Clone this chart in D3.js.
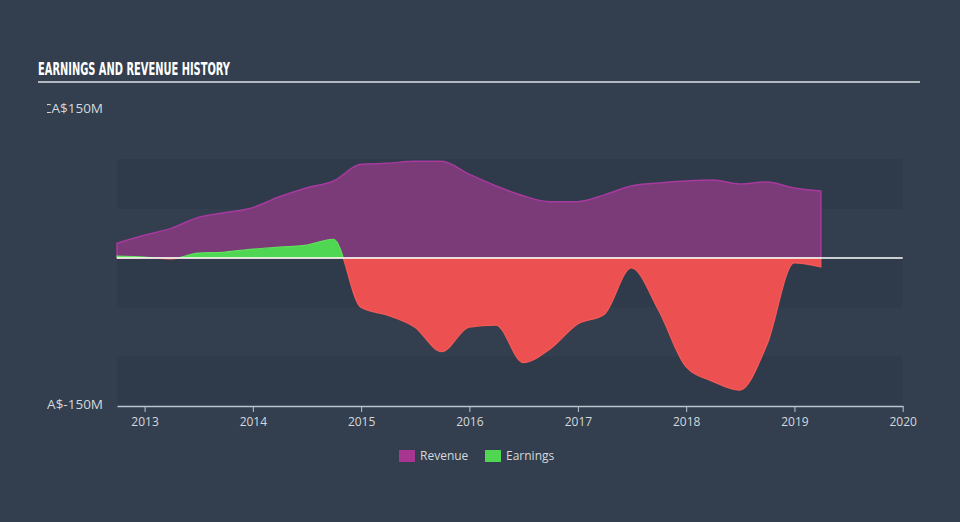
<!DOCTYPE html>
<html>
<head>
<meta charset="utf-8">
<script src="https://cdn.jsdelivr.net/npm/d3@7"></script>
<style>
  html, body { margin: 0; padding: 0; background: #333f4e; }
  svg { display: block; }
</style>
</head>
<body>
<svg id="chart" width="960" height="522"></svg>
<script>
// quarter-end dates and values (CA$ millions)
const dates = [
  '2012-09-30', '2012-12-31', '2013-03-31', '2013-06-30', '2013-09-30', '2013-12-31',
  '2014-03-31', '2014-06-30', '2014-09-30', '2014-12-31', '2015-03-31', '2015-06-30',
  '2015-09-30', '2015-12-31', '2016-03-31', '2016-06-30', '2016-09-30', '2016-12-31',
  '2017-03-31', '2017-06-30', '2017-09-30', '2017-12-31', '2018-03-31', '2018-06-30',
  '2018-09-30', '2018-12-31', '2019-03-31'
];
const revenue = [
  15, 23, 30, 41, 46, 51, 62, 71, 78, 95, 96, 98,
  98, 85, 73, 63, 57, 57, 64, 73, 76, 78, 79, 75,
  77, 71, 68
];
const earnings = [
  2, 1, -1, 5, 6, 9, 11, 13, 19, -50, -58, -70,
  -95, -70, -68, -106, -92, -67, -57, -10, -53, -110, -125, -134,
  -88, -5, -9
];
const yearTicks = ['2013', '2014', '2015', '2016', '2017', '2018', '2019', '2020'];
const yTicks = [150, -150];
const bands = [[50, 100], [-50, 0], [-150, -100]];
const legendItems = [
  { name: 'Revenue', color: '#a8358f' },
  { name: 'Earnings', color: '#4fd653' }
];

const parse = d3.timeParse('%Y-%m-%d');
const rows = dates.map((d, i) => ({ date: parse(d), rev: revenue[i], earn: earnings[i] }));

const svg = d3.select('#chart');
const left = 117, right = 902.7;

const x = d3.scaleTime()
  .domain([parse('2012-09-30'), parse('2020-01-01')])
  .range([left, right]);
const y = d3.scaleLinear().domain([-150, 150]).range([406, 110]);

// title
svg.append('text')
  .attr('x', 38).attr('y', 75)
  .attr('fill', '#ffffff')
  .attr('font-family', "'Liberation Sans Narrow', 'DejaVu Sans Condensed', sans-serif")
  .attr('font-weight', 700)
  .attr('font-size', 17)
  .attr('textLength', 192)
  .attr('lengthAdjust', 'spacingAndGlyphs')
  .text('EARNINGS AND REVENUE HISTORY');
svg.append('line')
  .attr('x1', 38).attr('x2', 920).attr('y1', 82).attr('y2', 82)
  .attr('stroke', '#b4b9bf').attr('stroke-width', 2);

// background bands
svg.append('g').selectAll('rect')
  .data(bands)
  .join('rect')
  .attr('x', left).attr('width', right - left)
  .attr('y', d => y(d[1]))
  .attr('height', d => y(d[0]) - y(d[1]))
  .attr('fill', '#2f3b4a');

// revenue
const revArea = d3.area()
  .curve(d3.curveMonotoneX)
  .x(d => x(d.date))
  .y0(y(0))
  .y1(d => y(d.rev));
svg.append('path')
  .datum(rows)
  .attr('d', revArea)
  .attr('fill', '#7b3a78')
  .attr('stroke', '#a63a9e')
  .attr('stroke-width', 1.5);

// earnings, split at zero into green / red
const defs = svg.append('defs');
defs.append('clipPath').attr('id', 'above')
  .append('rect').attr('x', 0).attr('y', 0).attr('width', 960).attr('height', y(0));
defs.append('clipPath').attr('id', 'below')
  .append('rect').attr('x', 0).attr('y', y(0)).attr('width', 960).attr('height', 522 - y(0));

const earnArea = d3.area()
  .curve(d3.curveMonotoneX)
  .x(d => x(d.date))
  .y0(y(0))
  .y1(d => y(d.earn));
svg.append('path')
  .datum(rows)
  .attr('d', earnArea)
  .attr('clip-path', 'url(#above)')
  .attr('fill', '#4fd653')
  .attr('stroke', '#5fe05c')
  .attr('stroke-width', 1.2);
svg.append('path')
  .datum(rows)
  .attr('d', earnArea)
  .attr('clip-path', 'url(#below)')
  .attr('fill', '#ec5050')
  .attr('stroke', '#f55a58')
  .attr('stroke-width', 1.2);

// zero line
svg.append('line')
  .attr('x1', left).attr('x2', right)
  .attr('y1', y(0)).attr('y2', y(0))
  .attr('stroke', '#ffffff').attr('stroke-width', 1.5);

// x axis
const xAxis = svg.append('g')
  .attr('transform', `translate(0,${y(-150)})`)
  .call(d3.axisBottom(x)
    .tickValues(yearTicks.map(t => parse(t + '-01-01')))
    .tickFormat(d3.timeFormat('%Y'))
    .tickSize(6)
    .tickSizeOuter(0));
xAxis.select('.domain').attr('stroke', '#b8c4d0').attr('stroke-width', 1.5);
xAxis.selectAll('.tick line').attr('stroke', '#b8c4d0');
xAxis.selectAll('.tick text')
  .attr('fill', '#d4d8dd')
  .attr('font-family', "'Open Sans', sans-serif")
  .attr('font-size', 12)
  .attr('dy', '0.9em');

// y labels (clipped at the left like the original)
defs.append('clipPath').attr('id', 'ylab')
  .append('rect').attr('x', 47).attr('y', 0).attr('width', 80).attr('height', 522);
svg.append('g')
  .attr('clip-path', 'url(#ylab)')
  .selectAll('text')
  .data(yTicks)
  .join('text')
  .attr('x', 103)
  .attr('y', d => y(d) - 2)
  .attr('dy', '0.35em')
  .attr('text-anchor', 'end')
  .attr('fill', '#d4d8dd')
  .attr('font-family', "'Open Sans', sans-serif")
  .attr('font-size', 13.5)
  .text(d => `CA$${d}M`);

// legend
const legend = svg.append('g').attr('transform', 'translate(399,450)');
const item = legend.selectAll('g')
  .data(legendItems)
  .join('g')
  .attr('transform', (d, i) => `translate(${i * 86},0)`);
item.append('rect')
  .attr('width', 16).attr('height', 12)
  .attr('fill', d => d.color);
item.append('text')
  .attr('x', 21).attr('y', 6)
  .attr('dy', '0.35em')
  .attr('fill', '#d4d8dd')
  .attr('font-family', "'Open Sans', sans-serif")
  .attr('font-size', 12)
  .text(d => d.name);
</script>
</body>
</html>
